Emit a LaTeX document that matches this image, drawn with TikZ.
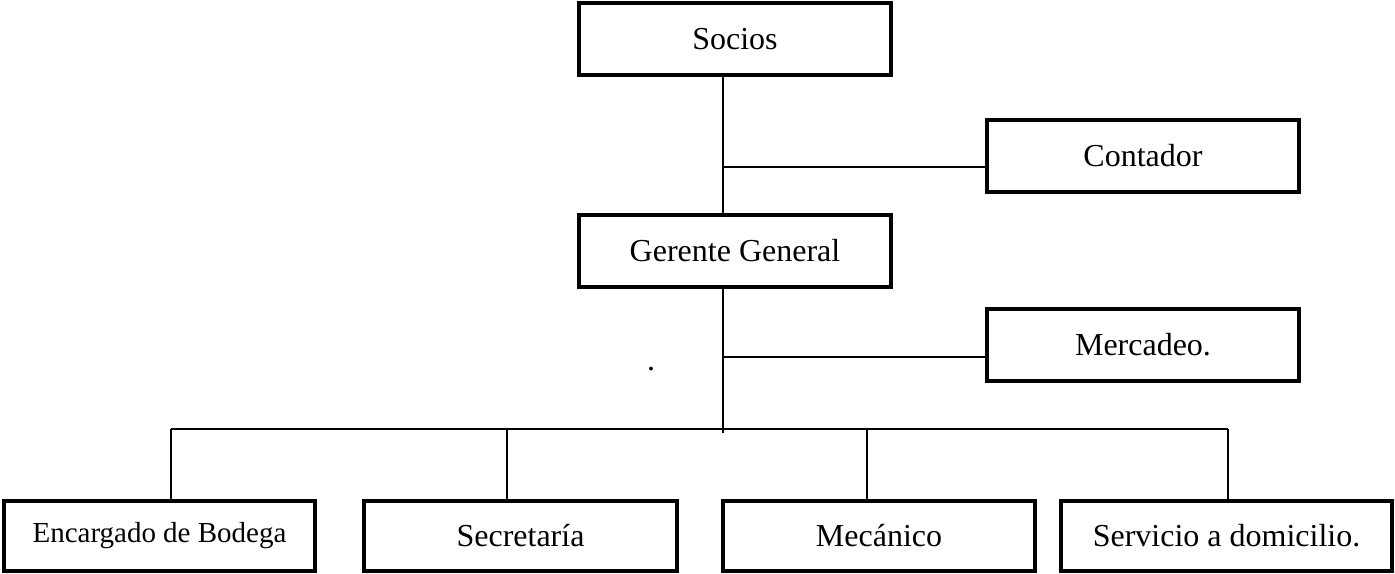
\documentclass[tikz,border=0pt]{standalone}
\usepackage{fontspec}
\setmainfont{Liberation Serif}
\usetikzlibrary{calc}

\begin{document}
\begin{tikzpicture}[x=.5pt,y=-.5pt,
  every node/.style={font=\fontsize{16}{19}\selectfont,inner sep=2pt},
  post/.style={draw,line width=2pt,minimum width=156pt,minimum height=36pt},
  low/.style={post,minimum height=35pt},
  link/.style={line width=1pt}]
\useasboundingbox (0,0) rectangle (1395,573);

% The spine runs down at x = 723; the bus to the lower row sits at y = 429.
\def\spine{723}
\def\bus{429}

% -------------------------------------------------------------------------
% Upper chain and the two staff boxes.
% -------------------------------------------------------------------------
\node[post] (socios)   at (735,39)   {Socios};
\node[post] (gerente)  at (735,251)  {Gerente General};
\node[post] (contador) at (1143,156) {Contador};
\node[post] (mercadeo) at (1143,345) {Mercadeo.};
\node (punto) at (651,369) {.};

\coordinate (sp) at (\spine,0);
\coordinate (jc) at (\spine,167);
\coordinate (jm) at (\spine,357);
\coordinate (foot) at (\spine,433);
\draw[link] (sp |- socios.south) -- (sp |- gerente.north);
\draw[link] (jc) -- (jc -| contador.west);
\draw[link] (sp |- gerente.south) -- (foot);
\draw[link] (jm) -- (jm -| mercadeo.west);

% -------------------------------------------------------------------------
% Lower row.
% -------------------------------------------------------------------------
\node[low,minimum width=155.5pt,font=\fontsize{14.5}{17}\selectfont]
  (bodega) at (159.5,536) {Encargado de Bodega};
\node[low,minimum width=156.5pt] (secretaria) at (520.5,536) {Secretaría};
\node[low] (mecanico) at (879,536) {Mecánico};
\node[low,minimum width=165.5pt] (domicilio) at (1226.5,536) {Servicio a domicilio.};

\draw[link] (171,\bus) coordinate (b1) -- (1228,\bus) coordinate (b4);
\foreach \t/\n in {171/bodega,507/secretaria,867/mecanico,1228/domicilio}{
  \coordinate (t) at (\t,\bus);
  \draw[link] (t) -- (t |- \n.north);
}
\end{tikzpicture}
\end{document}
